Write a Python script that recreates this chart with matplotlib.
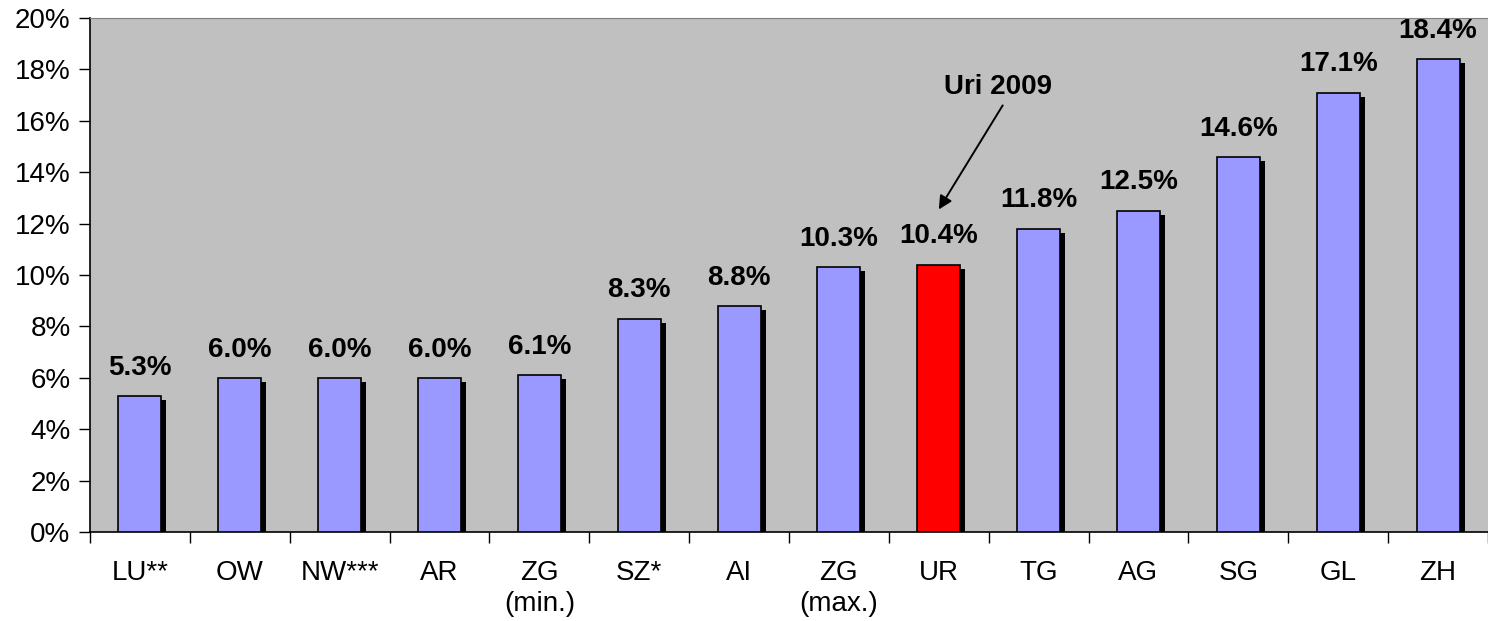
import numpy as np
import matplotlib
matplotlib.use("Agg")
from matplotlib import pyplot as plt
from matplotlib import patheffects as path_effects

cantons = ['LU**', 'OW', 'NW***', 'AR', 'ZG\n(min.)', 'SZ*', 'AI', 'ZG\n(max.)',
           'UR', 'TG', 'AG', 'SG', 'GL', 'ZH']
values = [5.3, 6.0, 6.0, 6.0, 6.1, 8.3, 8.8, 10.3, 10.4, 11.8, 12.5, 14.6, 17.1, 18.4]
highlight = 'UR'

plt.rcParams['font.family'] = ['Liberation Sans', 'DejaVu Sans']


def main():
    fig = plt.figure(figsize=(14.88, 6.21), dpi=100)
    ax = fig.add_axes([90 / 1488, 1 - 532 / 621, 1 - 90 / 1488, (532 - 18) / 621])
    ax.set_facecolor('#C0C0C0')

    x = np.arange(len(cantons))
    colors = ['#FF0000' if c == highlight else '#9999FF' for c in cantons]
    bars = ax.bar(x, values, width=0.43, color=colors, edgecolor='black', linewidth=1.2,
                  zorder=3)
    for b in bars:
        b.set_path_effects([path_effects.SimplePatchShadow(offset=(3.6, -2.9),
                                                           shadow_rgbFace='black',
                                                           alpha=1.0),
                            path_effects.Normal()])

    for xi, v in zip(x, values):
        ax.annotate(f'{v:.1f}%', (xi, v), xytext=(0, 11), textcoords='offset points',
                    ha='center', va='bottom', fontsize=20, fontweight='bold', zorder=4)

    # Pfeil auf Uri
    ax.text(8.59, 17.3, 'Uri 2009', ha='center', va='center', fontsize=20,
            fontweight='bold')
    ax.annotate('', xy=(8.0, 12.55), xytext=(8.64, 16.6),
                arrowprops=dict(arrowstyle='-|>', color='black', lw=1.4,
                                mutation_scale=20, shrinkA=0, shrinkB=0))

    ax.set_xlim(-0.5, len(cantons) - 0.5)
    ax.set_ylim(0, 20)
    ax.set_yticks(np.arange(0, 21, 2))
    ax.set_yticklabels([f'{t}%' for t in range(0, 21, 2)], fontsize=20)
    ax.set_xticks(np.arange(-0.5, len(cantons), 1.0))
    ax.set_xticklabels([])
    ax.set_xticks(x, minor=True)
    ax.set_xticklabels(cantons, minor=True, fontsize=20, linespacing=1.25)
    ax.tick_params(axis='x', which='minor', length=0, pad=20)
    ax.tick_params(axis='x', which='major', length=8, width=1, direction='out')
    ax.tick_params(axis='y', length=8, width=1, direction='out', pad=6)

    ax.spines['top'].set_color('#808080')
    ax.spines['right'].set_visible(False)
    for s in ('left', 'bottom'):
        ax.spines[s].set_linewidth(1.2)

    fig.savefig('out.png', dpi=100)


if __name__ == '__main__':
    main()
